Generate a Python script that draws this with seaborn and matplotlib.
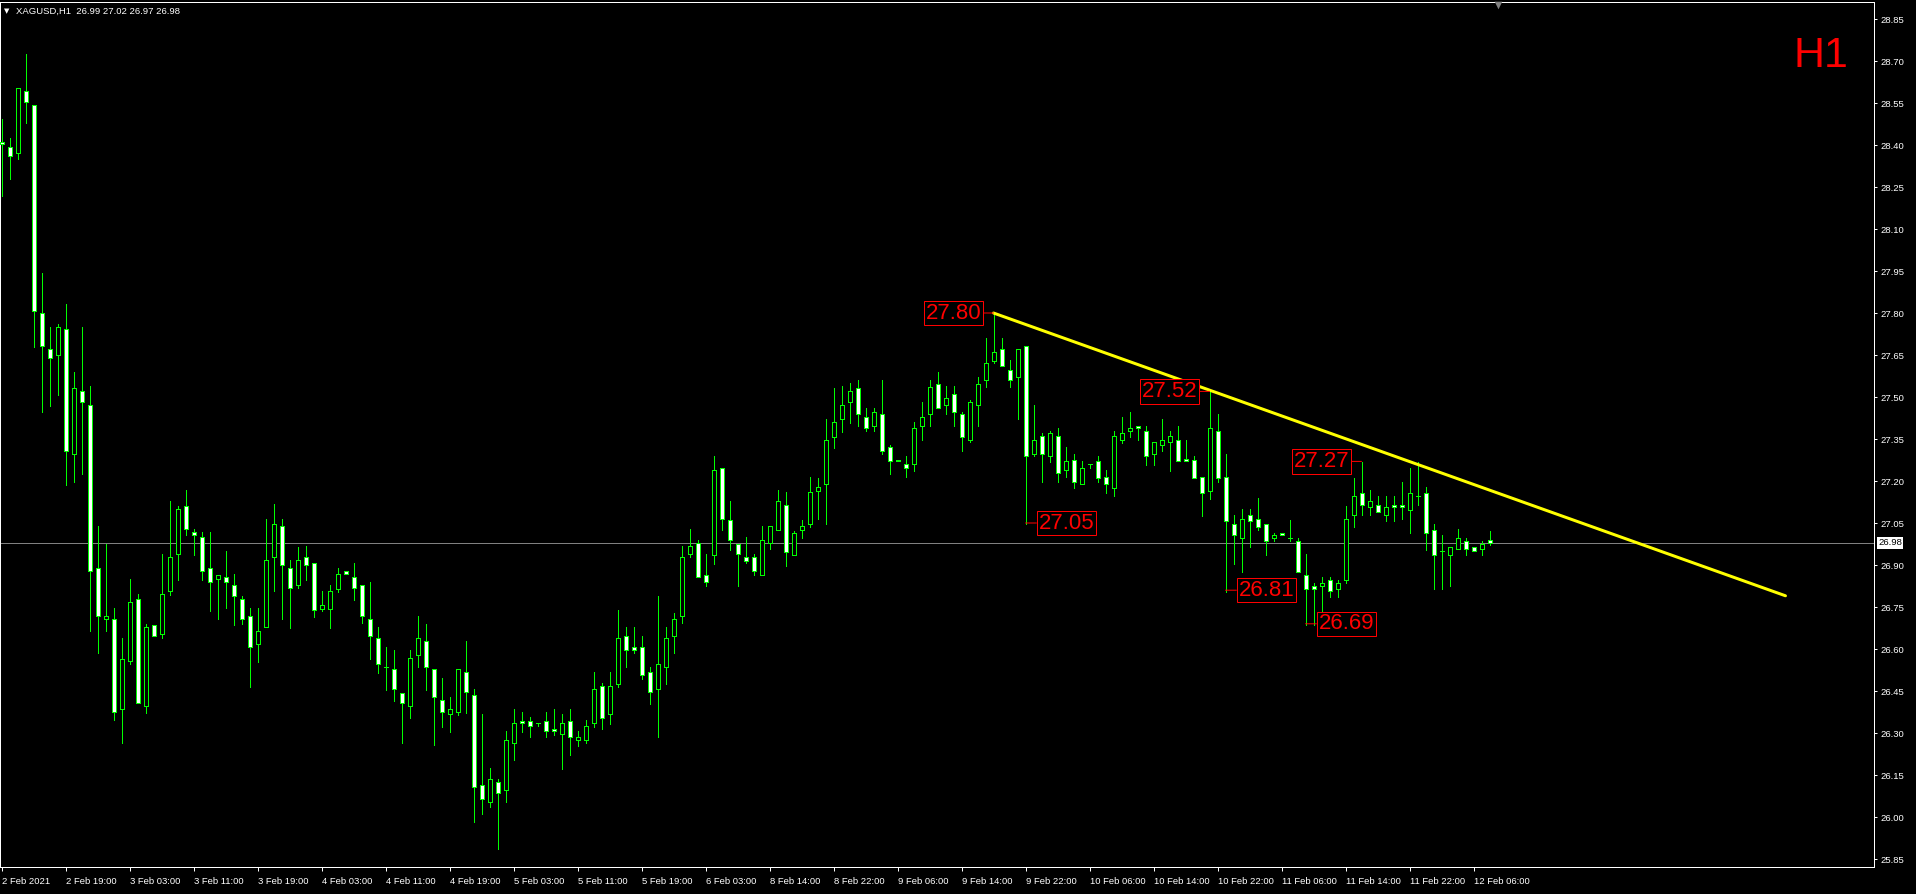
import matplotlib
matplotlib.use("Agg")
import matplotlib.pyplot as plt
import matplotlib.transforms as mtransforms
import numpy as np
import seaborn as sns

# ---------------- data ----------------
symbol = "XAGUSD"
timeframe = "H1"

opens = [28.410, 28.392, 28.373, 28.593, 28.542, 27.799, 27.670, 27.649, 27.742, 27.298,
         27.520, 27.470, 26.888, 26.706, 26.706, 26.384, 26.556, 26.778, 26.396, 26.687,
         26.655, 26.807, 26.938, 27.111, 27.017, 27.001, 26.888, 26.850, 26.856, 26.827,
         26.778, 26.717, 26.617, 26.678, 26.927, 27.038, 26.888, 26.827, 26.928, 26.906,
         26.744, 26.744, 26.816, 26.878, 26.856, 26.828, 26.706, 26.638, 26.535, 26.528,
         26.444, 26.396, 26.578, 26.628, 26.528, 26.417, 26.367, 26.374, 26.517, 26.435,
         26.113, 26.055, 26.124, 26.096, 26.266, 26.344, 26.344, 26.335, 26.344, 26.316,
         26.296, 26.344, 26.274, 26.274, 26.334, 26.467, 26.367, 26.476, 26.646, 26.606,
         26.606, 26.517, 26.456, 26.536, 26.646, 26.717, 26.938, 26.977, 26.866, 26.936,
         27.248, 27.059, 26.976, 26.927, 26.927, 26.865, 26.977, 27.026, 27.116, 26.936,
         27.026, 27.048, 27.166, 27.188, 27.358, 27.420, 27.481, 27.531, 27.427, 27.398,
         27.438, 27.320, 27.276, 27.259, 27.259, 27.398, 27.438, 27.548, 27.470, 27.509,
         27.438, 27.348, 27.470, 27.559, 27.629, 27.670, 27.598, 27.570, 27.681, 27.298,
         27.359, 27.288, 27.359, 27.238, 27.276, 27.188, 27.259, 27.270, 27.215, 27.176,
         27.348, 27.377, 27.398, 27.377, 27.298, 27.327, 27.338, 27.348, 27.277, 27.276,
         27.215, 27.165, 27.377, 27.215, 27.047, 26.997, 27.077, 27.066, 27.047, 26.997,
         27.016, 26.997, 26.986, 26.865, 26.826, 26.826, 26.847, 26.815, 26.847, 27.077,
         27.158, 27.108, 27.116, 27.077, 27.116, 27.116, 27.098, 27.148, 27.158, 27.026,
         26.950, 26.936, 26.956, 26.986, 26.966, 26.956, 26.990]
highs = [28.493, 28.424, 28.602, 28.725, 28.542, 27.943, 27.750, 27.761, 27.832, 27.589,
         27.750, 27.539, 27.040, 26.976, 26.745, 26.640, 26.850, 26.797, 26.689, 26.687,
         26.940, 27.129, 27.111, 27.168, 27.030, 27.017, 27.017, 26.866, 26.950, 26.868,
         26.789, 26.745, 26.745, 27.066, 27.119, 27.066, 26.917, 26.966, 26.968, 26.906,
         26.807, 26.829, 26.890, 26.878, 26.907, 26.828, 26.840, 26.679, 26.607, 26.597,
         26.444, 26.597, 26.718, 26.690, 26.528, 26.497, 26.429, 26.528, 26.629, 26.457,
         26.368, 26.175, 26.135, 26.307, 26.386, 26.375, 26.357, 26.335, 26.375, 26.386,
         26.368, 26.386, 26.307, 26.347, 26.518, 26.478, 26.518, 26.740, 26.679, 26.679,
         26.647, 26.536, 26.790, 26.679, 26.729, 26.968, 27.029, 26.989, 26.939, 27.289,
         27.248, 27.128, 26.976, 27.000, 26.939, 27.039, 27.038, 27.167, 27.159, 27.020,
         27.060, 27.216, 27.209, 27.421, 27.531, 27.538, 27.550, 27.560, 27.460, 27.459,
         27.560, 27.327, 27.276, 27.289, 27.410, 27.481, 27.560, 27.589, 27.538, 27.538,
         27.448, 27.489, 27.570, 27.710, 27.800, 27.710, 27.631, 27.670, 27.681, 27.470,
         27.370, 27.378, 27.389, 27.320, 27.298, 27.270, 27.259, 27.289, 27.238, 27.378,
         27.428, 27.448, 27.398, 27.398, 27.338, 27.421, 27.378, 27.398, 27.348, 27.288,
         27.215, 27.522, 27.438, 27.298, 27.078, 27.100, 27.100, 27.138, 27.047, 27.016,
         27.016, 27.060, 26.997, 26.939, 26.836, 26.856, 26.856, 26.848, 27.109, 27.209,
         27.269, 27.167, 27.148, 27.148, 27.148, 27.198, 27.248, 27.269, 27.178, 27.048,
         27.007, 26.966, 27.027, 26.997, 26.966, 26.986, 27.020]
lows = [28.219, 28.280, 28.351, 28.480, 27.680, 27.448, 27.469, 27.507, 27.186, 27.196,
        27.225, 26.666, 26.584, 26.666, 26.345, 26.266, 26.545, 26.407, 26.373, 26.646,
        26.638, 26.794, 26.847, 27.006, 26.937, 26.848, 26.737, 26.706, 26.746, 26.687,
        26.689, 26.466, 26.553, 26.678, 26.806, 26.706, 26.676, 26.817, 26.848, 26.716,
        26.736, 26.676, 26.805, 26.867, 26.776, 26.694, 26.566, 26.516, 26.455, 26.416,
        26.266, 26.355, 26.534, 26.455, 26.256, 26.323, 26.305, 26.365, 26.372, 25.982,
        26.011, 26.034, 25.884, 26.055, 26.205, 26.304, 26.284, 26.324, 26.284, 26.294,
        26.173, 26.223, 26.254, 26.265, 26.322, 26.315, 26.332, 26.466, 26.534, 26.584,
        26.494, 26.404, 26.284, 26.476, 26.584, 26.694, 26.928, 26.856, 26.826, 26.903,
        27.025, 26.953, 26.826, 26.906, 26.865, 26.865, 26.956, 27.026, 26.897, 26.936,
        26.997, 27.036, 27.065, 27.047, 27.319, 27.376, 27.407, 27.397, 27.380, 27.377,
        27.297, 27.226, 27.270, 27.215, 27.236, 27.348, 27.398, 27.459, 27.438, 27.397,
        27.308, 27.338, 27.397, 27.536, 27.620, 27.609, 27.536, 27.420, 27.046, 27.288,
        27.197, 27.267, 27.197, 27.215, 27.176, 27.188, 27.248, 27.197, 27.158, 27.147,
        27.336, 27.358, 27.348, 27.258, 27.258, 27.308, 27.236, 27.270, 27.270, 27.209,
        27.076, 27.135, 27.197, 26.804, 26.903, 26.876, 26.964, 27.025, 26.935, 26.986,
        27.006, 26.986, 26.876, 26.685, 26.685, 26.727, 26.786, 26.786, 26.836, 27.036,
        27.077, 27.077, 27.088, 27.058, 27.058, 27.065, 27.016, 27.115, 26.954, 26.815,
        26.815, 26.826, 26.956, 26.936, 26.950, 26.936, 26.970]
closes = [28.404, 28.362, 28.602, 28.552, 27.808, 27.682, 27.638, 27.749, 27.308, 27.531,
          27.481, 26.878, 26.717, 26.717, 26.374, 26.566, 26.768, 26.407, 26.678, 26.646,
          26.796, 26.929, 27.101, 27.027, 27.007, 26.878, 26.838, 26.866, 26.838, 26.789,
          26.706, 26.607, 26.666, 26.917, 27.048, 26.899, 26.817, 26.917, 26.899, 26.738,
          26.756, 26.806, 26.867, 26.867, 26.817, 26.717, 26.646, 26.547, 26.535, 26.456,
          26.406, 26.567, 26.638, 26.535, 26.428, 26.374, 26.385, 26.528, 26.446, 26.106,
          26.063, 26.135, 26.085, 26.274, 26.335, 26.335, 26.324, 26.335, 26.306, 26.306,
          26.335, 26.285, 26.285, 26.324, 26.456, 26.355, 26.467, 26.638, 26.596, 26.596,
          26.506, 26.446, 26.546, 26.638, 26.706, 26.928, 26.968, 26.856, 26.838, 27.238,
          27.065, 26.988, 26.938, 26.916, 26.877, 26.989, 27.038, 27.127, 26.948, 27.016,
          27.038, 27.159, 27.177, 27.348, 27.409, 27.470, 27.520, 27.438, 27.388, 27.448,
          27.308, 27.270, 27.270, 27.248, 27.388, 27.427, 27.536, 27.459, 27.498, 27.448,
          27.358, 27.481, 27.548, 27.620, 27.659, 27.609, 27.559, 27.670, 27.288, 27.348,
          27.298, 27.370, 27.227, 27.270, 27.197, 27.248, 27.259, 27.209, 27.188, 27.359,
          27.370, 27.388, 27.388, 27.288, 27.338, 27.348, 27.359, 27.270, 27.270, 27.209,
          27.158, 27.388, 27.209, 27.058, 27.006, 27.066, 27.058, 27.036, 26.986, 27.006,
          27.006, 26.997, 26.876, 26.815, 26.815, 26.836, 26.806, 26.836, 27.066, 27.148,
          27.116, 27.127, 27.088, 27.108, 27.108, 27.108, 27.158, 27.148, 27.016, 26.936,
          26.950, 26.966, 26.997, 26.956, 26.950, 26.976, 26.980]

time_labels = ["2 Feb 2021", "2 Feb 19:00", "3 Feb 03:00", "3 Feb 11:00", "3 Feb 19:00",
               "4 Feb 03:00", "4 Feb 11:00", "4 Feb 19:00", "5 Feb 03:00", "5 Feb 11:00",
               "5 Feb 19:00", "6 Feb 03:00", "8 Feb 14:00", "8 Feb 22:00", "9 Feb 06:00",
               "9 Feb 14:00", "9 Feb 22:00", "10 Feb 06:00", "10 Feb 14:00", "10 Feb 22:00",
               "11 Feb 06:00", "11 Feb 14:00", "11 Feb 22:00", "12 Feb 06:00"]
bars_per_label = 8

price_ticks = [25.85, 26.00, 26.15, 26.30, 26.45, 26.60, 26.75, 26.90, 27.05,
               27.20, 27.35, 27.50, 27.65, 27.80, 27.95, 28.10, 28.25, 28.40,
               28.55, 28.70, 28.85]

trend_bars = [124, 223]
trend_prices = [27.80, 26.79]

mark_bars = [124, 128, 151, 153, 163, 170]
mark_values = [27.80, 27.05, 27.52, 26.81, 26.69, 27.27]
mark_sides = ["left", "right", "left", "right", "right", "left"]

shift_bar = 187

# ---------------- style ----------------
sns.set_style("dark", {"axes.facecolor": "black", "figure.facecolor": "black"})
plt.rcParams["font.family"] = ["Liberation Sans", "DejaVu Sans"]

W, H = 1916, 894
DPI = 100
PX = 72.0 / DPI  # points per pixel

fig = plt.figure(figsize=(W / DPI, H / DPI), dpi=DPI, facecolor="black")
ax_left, ax_right, ax_top, ax_bot = 0, 1874, 2, 867
ax = fig.add_axes([ax_left / W, (H - ax_bot) / H, (ax_right - ax_left) / W, (ax_bot - ax_top) / H])
ax.set_facecolor("black")

GREEN = "#00FF00"
n = len(opens)
idx = np.arange(n)
o = np.array(opens); h = np.array(highs); l = np.array(lows); c = np.array(closes)
bear = c < o

# price (bid) line
ax.axhline(closes[-1], color="#808080", lw=PX, zorder=1)

# wicks
ax.vlines(idx, l, h, color=GREEN, lw=PX, zorder=2, antialiased=False)
# bodies
ax.bar(idx, np.abs(c - o), bottom=np.minimum(o, c), width=0.5,
       color=np.where(bear, "white", "black"), edgecolor=GREEN,
       linewidth=PX, zorder=3, antialiased=False)

# trend line
sns.lineplot(x=trend_bars, y=trend_prices, color="#FFFF00", lw=3 * PX, ax=ax, zorder=4)

# high / low marks
label_family = ["Liberation Sans Narrow", "Liberation Sans", "DejaVu Sans"]
for b, v, s in zip(mark_bars, mark_values, mark_sides):
    off = -12 if s == "left" else 13
    ax.annotate(f"{v:.2f}", xy=(b, v), xytext=(off, 0), textcoords="offset pixels",
                ha="right" if s == "left" else "left", va="center",
                color="#FF0000", fontsize=16, family=label_family,
                bbox=dict(boxstyle="square,pad=0.08", fc="black", ec="#FF0000", lw=PX),
                arrowprops=dict(arrowstyle="-", color="#FF0000", lw=PX,
                                shrinkA=0, shrinkB=0),
                zorder=5)

# limits: bar i centred at pixel 1.5 + 8 i
ax.set_xlim(-1.5 / 8, (ax_right - ax_left - 1.5) / 8)
ax.set_ylim(28.85 - (ax_bot - 19) / 280.0, 28.85 + (19 - ax_top) / 280.0)

# x axis (time)
ax.set_xticks([i * bars_per_label for i in range(len(time_labels))])
ax.set_xticklabels(time_labels, ha="left")
ax.tick_params(axis="x", direction="out", length=4 * PX, width=PX, color="white",
               labelcolor="white", labelsize=6.8, pad=4.5, bottom=True)
shift = mtransforms.ScaledTranslation(1 / DPI, 0, fig.dpi_scale_trans)
for lab in ax.get_xticklabels():
    lab.set_transform(lab.get_transform() + shift)

# y axis (price) on the right
ax.yaxis.tick_right()
ax.set_yticks(price_ticks)
ax.set_yticklabels([f"{p:.2f}" for p in price_ticks])
ax.tick_params(axis="y", direction="out", length=3 * PX, width=PX, color="white",
               labelcolor="white", labelsize=6.8, pad=2.5, right=True, left=False)
ax.grid(False)
for sp in ax.spines.values():
    sp.set_visible(True)
    sp.set_color("white")
    sp.set_linewidth(PX)
ax.set_xlabel("")
ax.set_ylabel("")

# current price box on the axis
ax.annotate(f"{closes[-1]:.2f}", xy=(1, closes[-1]), xycoords=("axes fraction", "data"),
            xytext=(4, 0), textcoords="offset pixels", ha="left", va="center",
            color="black", fontsize=6.8,
            bbox=dict(boxstyle="square,pad=0.15", fc="white", ec="white", lw=0),
            annotation_clip=False, zorder=6)

# chart shift marker
ax.scatter([shift_bar], [1 - 2.5 / (ax_bot - ax_top)], marker="v", s=30, color="#808080",
           transform=ax.get_xaxis_transform(), clip_on=False, zorder=6, linewidths=0)

# header
fig.text(4 / W, 1 - 11 / H, "\u25BC", color="white", fontsize=5, va="center",
         family=["DejaVu Sans"])
fig.text(16 / W, 1 - 11 / H,
         f"{symbol},{timeframe}  {opens[-1]:.2f} {highs[-1]:.2f} {lows[-1]:.2f} {closes[-1]:.2f}",
         color="white", fontsize=6.8, va="center")

# timeframe watermark
fig.text(1848 / W, 1 - 67 / H, timeframe, color="#FF0000", fontsize=31,
         ha="right", va="baseline", family=["Liberation Sans", "DejaVu Sans"])

fig.savefig("out.png", dpi=DPI, facecolor="black")
